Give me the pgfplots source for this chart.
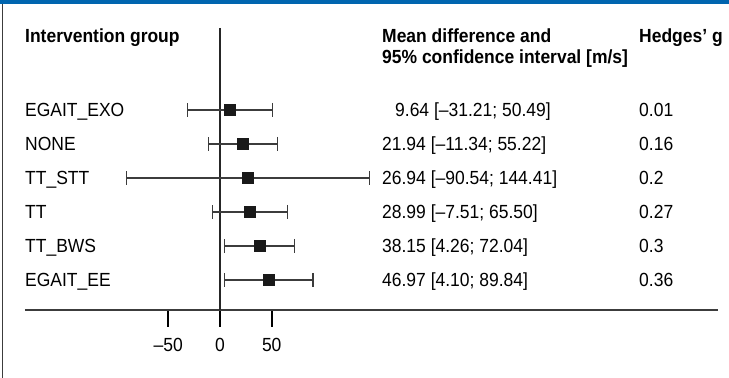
\documentclass[border=0pt]{standalone}
\usepackage{pgfplots}
\pgfplotsset{compat=1.18}
\usepackage{pgfplotstable}
\usepackage{fontspec}
\setmainfont{Liberation Sans}[FakeStretch=0.92]
\definecolor{topblue}{RGB}{0,101,175}
\definecolor{bargray}{RGB}{60,60,60}
\newcommand{\ff}{\fontsize{19}{22}\selectfont}

\pgfplotstableread{
y mean em ep
6 9.64 40.85 40.85
5 21.94 33.28 33.28
4 26.94 117.48 117.47
3 28.99 36.50 36.51
2 38.15 33.89 33.89
1 46.97 42.87 42.87
}\fdata

\begin{document}
\begin{tikzpicture}[txt/.style={anchor=base west, inner sep=0pt, font=\ff}]
\begin{axis}[
  x=1.035pt, y=34pt,
  xmin=-188.41, xmax=481.16, ymin=0.1176, ymax=8.4118,
  axis x line=bottom, axis y line=none,
  x axis line style={-, line width=1.2pt, color=bargray},
  xtick={-50,0,50}, xticklabels={–50,0,50},
  xtick pos=bottom,
  tick align=outside, major tick length=17pt,
  xtick style={line width=2pt, black},
  xticklabel style={font=\ff, anchor=north, yshift=-8pt},
  clip=false,
]
\fill[topblue] (axis cs:-212.56,9.235) rectangle (axis cs:491.79,9.118);
\draw[line width=1.6pt, bargray] (axis cs:-210.14,9.118) -- (axis cs:-210.14,-1.882);
\draw[line width=1.1pt, black!85] (axis cs:0,8.4118) -- (axis cs:0,0.1176);

\addplot[only marks, mark=square*, mark size=5.6pt,
  mark options={fill=black!90, draw=black!90, line width=0.3pt},
  error bars/.cd, x dir=both, x explicit, error mark=|,
  error bar style={line width=1.2pt, bargray},
  error mark options={line width=1.2pt, mark size=7pt, bargray}]
  table[x=mean, y=y, x error minus=em, x error plus=ep]{\fdata};

% headers
\node[txt, font=\ff\bfseries] at (axis cs:-188.41,7.971) {Intervention group};
\node[txt, font=\ff\bfseries] at (axis cs:156.52,7.971) {Mean difference and};
\node[txt, font=\ff\bfseries] at (axis cs:156.52,7.353) {95\% confidence interval [m/s]};
\node[txt, font=\ff\bfseries] at (axis cs:404.83,7.971) {Hedges’ g};

% row labels
\node[txt, yshift=-6.5pt] at (axis cs:-188.41,6) {EGAIT\_EXO};
\node[txt, yshift=-6.5pt] at (axis cs:-188.41,5) {NONE};
\node[txt, yshift=-6.5pt] at (axis cs:-188.41,4) {TT\_STT};
\node[txt, yshift=-6.5pt] at (axis cs:-188.41,3) {TT};
\node[txt, yshift=-6.5pt] at (axis cs:-188.41,2) {TT\_BWS};
\node[txt, yshift=-6.5pt] at (axis cs:-188.41,1) {EGAIT\_EE};

% values
\node[txt, yshift=-6.5pt] at (axis cs:169.08,6) {9.64 [–31.21; 50.49]};
\node[txt, yshift=-6.5pt] at (axis cs:156.52,5) {21.94 [–11.34; 55.22]};
\node[txt, yshift=-6.5pt] at (axis cs:156.52,4) {26.94 [–90.54; 144.41]};
\node[txt, yshift=-6.5pt] at (axis cs:156.52,3) {28.99 [–7.51; 65.50]};
\node[txt, yshift=-6.5pt] at (axis cs:156.52,2) {38.15 [4.26; 72.04]};
\node[txt, yshift=-6.5pt] at (axis cs:156.52,1) {46.97 [4.10; 89.84]};

% Hedges' g
\node[txt, yshift=-6.5pt] at (axis cs:404.83,6) {0.01};
\node[txt, yshift=-6.5pt] at (axis cs:404.83,5) {0.16};
\node[txt, yshift=-6.5pt] at (axis cs:404.83,4) {0.2};
\node[txt, yshift=-6.5pt] at (axis cs:404.83,3) {0.27};
\node[txt, yshift=-6.5pt] at (axis cs:404.83,2) {0.3};
\node[txt, yshift=-6.5pt] at (axis cs:404.83,1) {0.36};

\coordinate (bbA) at (axis cs:-212.56,-1.882);
\coordinate (bbB) at (axis cs:491.79,9.235);
\end{axis}
\pgfresetboundingbox
\path (bbA) rectangle (bbB);
\end{tikzpicture}
\end{document}
